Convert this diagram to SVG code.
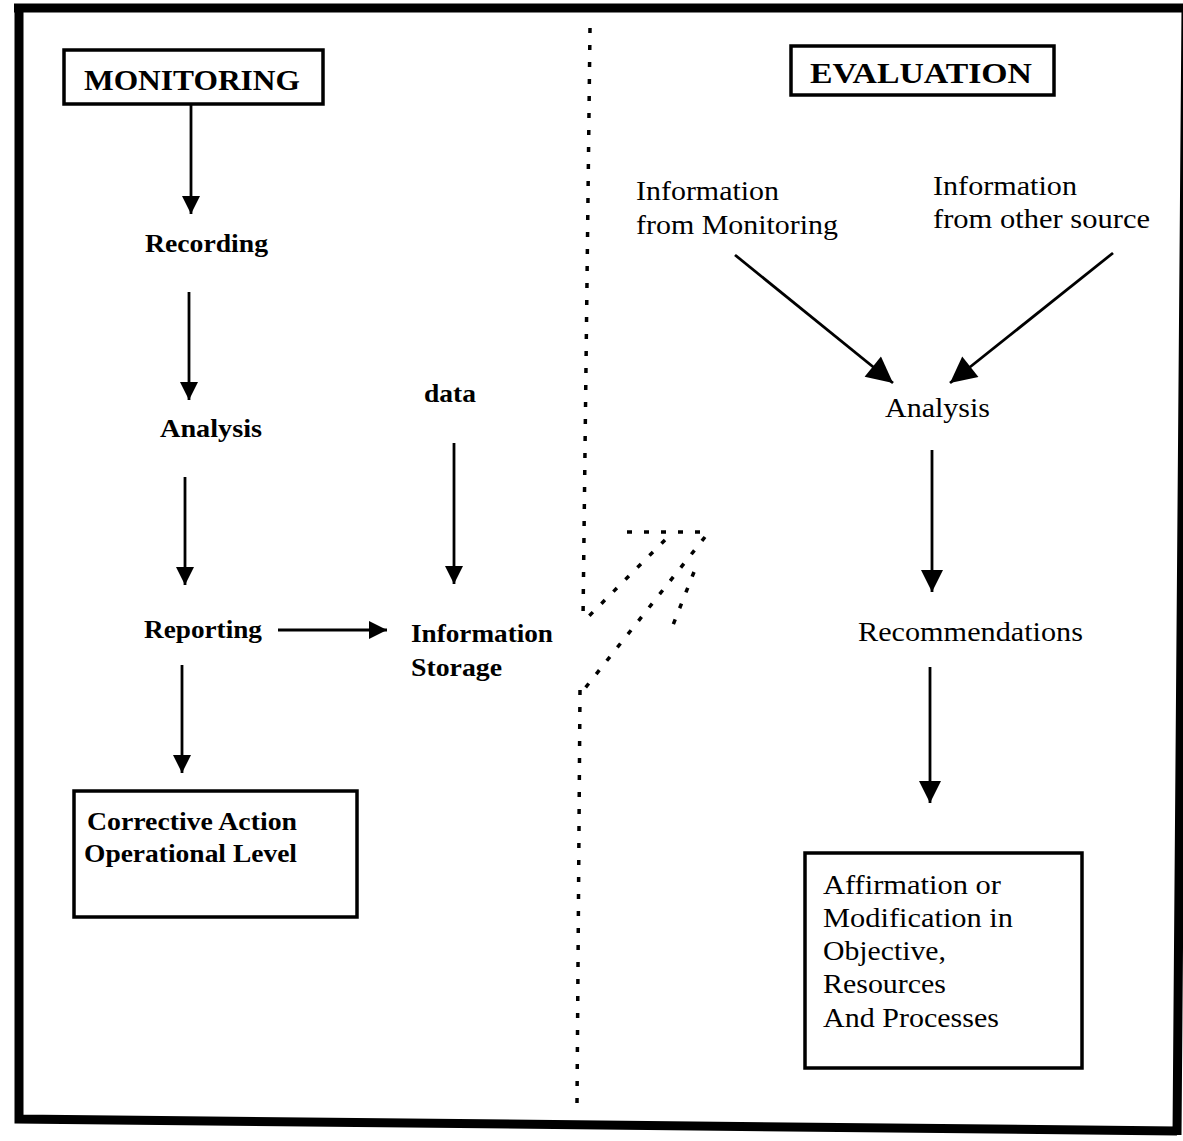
<svg xmlns="http://www.w3.org/2000/svg" width="1183" height="1141" viewBox="0 0 1183 1141">
<style>
.b{font-family:"Liberation Serif","Times New Roman",serif;font-weight:bold;font-size:26px;fill:#000}
.r{font-family:"Liberation Serif","Times New Roman",serif;font-size:27px;fill:#000}
.h{font-family:"Liberation Serif","Times New Roman",serif;font-weight:bold;font-size:29px;fill:#000}
.box{fill:#fff;stroke:#000;stroke-width:3.5}
.ln{stroke:#000;stroke-width:2.8;fill:none}
.dot{stroke:#000;stroke-width:3.5;fill:none;stroke-dasharray:5 12}
</style>
<defs>
<marker id="ah" viewBox="0 0 10 10" refX="10" refY="5" markerWidth="18" markerHeight="20" markerUnits="userSpaceOnUse" orient="auto"><path d="M0,0 L10,5 L0,10 z" fill="#000"/></marker>
<marker id="ahL" viewBox="0 0 10 10" refX="10" refY="5" markerWidth="22" markerHeight="22" markerUnits="userSpaceOnUse" orient="auto"><path d="M0,0 L10,5 L0,10 z" fill="#000"/></marker>
<marker id="ahD" viewBox="0 0 10 10" refX="10" refY="5" markerWidth="30" markerHeight="26" markerUnits="userSpaceOnUse" orient="auto"><path d="M0,0 L10,5 L0,10 z" fill="#000"/></marker>
</defs>
<rect width="1183" height="1141" fill="#fff"/>
<g id="frame">
<path d="M14,8 L1190,8 M19,8 L19,1119 L1177,1131 M1186,8 L1177,1135" stroke="#000" stroke-width="9" fill="none"/>
</g>
<g id="divider">
<path class="dot" d="M590,28 L583,620"/>
<path class="dot" d="M580,690 L577,1105"/>
<path class="dot" d="M627,532 L705,532"/>
<path class="dot" d="M705,537 L582,692"/>
<path class="dot" d="M665,540 L588,617"/>
<path class="dot" d="M694,572 L673,625"/>
</g>
<g id="connectors">
<line class="ln" x1="191" y1="104" x2="191" y2="214" marker-end="url(#ah)"/>
<line class="ln" x1="189" y1="292" x2="189" y2="400" marker-end="url(#ah)"/>
<line class="ln" x1="185" y1="477" x2="185" y2="585" marker-end="url(#ah)"/>
<line class="ln" x1="278" y1="630" x2="387" y2="630" marker-end="url(#ah)"/>
<line class="ln" x1="454" y1="443" x2="454" y2="584" marker-end="url(#ah)"/>
<line class="ln" x1="182" y1="665" x2="182" y2="773" marker-end="url(#ah)"/>
<line class="ln" x1="735" y1="255" x2="893" y2="383" marker-end="url(#ahD)"/>
<line class="ln" x1="1113" y1="253" x2="950" y2="383" marker-end="url(#ahD)"/>
<line class="ln" x1="932" y1="450" x2="932" y2="592" marker-end="url(#ahL)"/>
<line class="ln" x1="930" y1="667" x2="930" y2="803" marker-end="url(#ahL)"/>
</g>
<g id="monitoring">
<rect class="box" x="64" y="50" width="259" height="54"/>
<text class="h" x="84" y="90" textLength="216" lengthAdjust="spacingAndGlyphs">MONITORING</text>
</g>
<g id="recording"><text class="b" x="145" y="252" textLength="123" lengthAdjust="spacingAndGlyphs">Recording</text></g>
<g id="analysis-m"><text class="b" x="160" y="437" textLength="102" lengthAdjust="spacingAndGlyphs">Analysis</text></g>
<g id="reporting"><text class="b" x="144" y="638" textLength="118" lengthAdjust="spacingAndGlyphs">Reporting</text></g>
<g id="data"><text class="b" x="424" y="402" textLength="52" lengthAdjust="spacingAndGlyphs">data</text></g>
<g id="storage">
<text class="b" x="411" y="642" textLength="142" lengthAdjust="spacingAndGlyphs">Information</text>
<text class="b" x="411" y="676" textLength="91" lengthAdjust="spacingAndGlyphs">Storage</text>
</g>
<g id="corrective">
<rect class="box" x="74" y="791" width="283" height="126"/>
<text class="b" x="87" y="830" textLength="210" lengthAdjust="spacingAndGlyphs">Corrective Action</text>
<text class="b" x="84" y="862" textLength="213" lengthAdjust="spacingAndGlyphs">Operational Level</text>
</g>
<g id="evaluation">
<rect class="box" x="791" y="46" width="263" height="49"/>
<text class="h" x="810" y="83" textLength="222" lengthAdjust="spacingAndGlyphs">EVALUATION</text>
</g>
<g id="info-monitoring">
<text class="r" x="636" y="200" textLength="143" lengthAdjust="spacingAndGlyphs">Information</text>
<text class="r" x="636" y="234" textLength="202" lengthAdjust="spacingAndGlyphs">from Monitoring</text>
</g>
<g id="info-other">
<text class="r" x="933" y="195" textLength="144" lengthAdjust="spacingAndGlyphs">Information</text>
<text class="r" x="933" y="228" textLength="217" lengthAdjust="spacingAndGlyphs">from other source</text>
</g>
<g id="analysis-e"><text class="r" x="885" y="417" textLength="105" lengthAdjust="spacingAndGlyphs">Analysis</text></g>
<g id="recommendations"><text class="r" x="858" y="641" textLength="225" lengthAdjust="spacingAndGlyphs">Recommendations</text></g>
<g id="affirmation">
<rect class="box" x="805" y="853" width="277" height="215"/>
<text class="r" x="823" y="894" textLength="178" lengthAdjust="spacingAndGlyphs">Affirmation or</text>
<text class="r" x="823" y="927" textLength="190" lengthAdjust="spacingAndGlyphs">Modification in</text>
<text class="r" x="823" y="960" textLength="123" lengthAdjust="spacingAndGlyphs">Objective,</text>
<text class="r" x="823" y="993" textLength="123" lengthAdjust="spacingAndGlyphs">Resources</text>
<text class="r" x="823" y="1027" textLength="176" lengthAdjust="spacingAndGlyphs">And Processes</text>
</g>
</svg>
